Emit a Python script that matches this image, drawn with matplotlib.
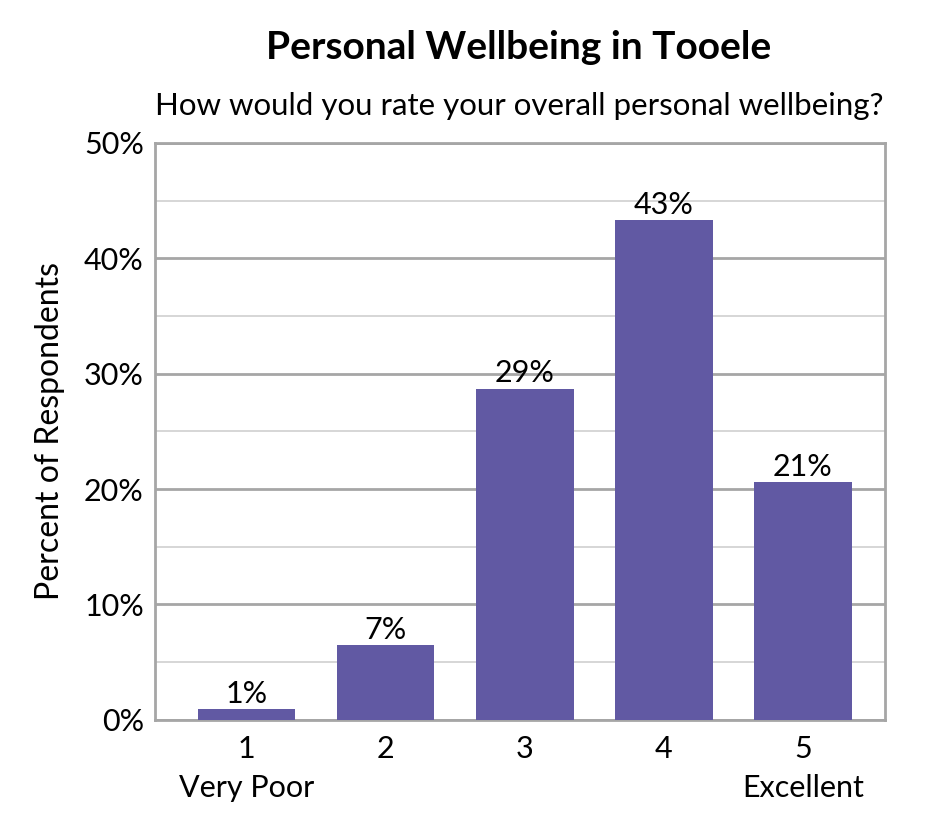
import matplotlib
matplotlib.use("Agg")
from matplotlib import pyplot as plt
from matplotlib.ticker import MultipleLocator, PercentFormatter

categories = ["1\nVery Poor", "2", "3", "4", "5\nExcellent"]
percents = [0.9, 6.5, 28.7, 43.3, 20.6]
bar_labels = ["1%", "7%", "29%", "43%", "21%"]

plt.rcParams['font.family'] = ['Lato', 'DejaVu Sans']

fig = plt.figure(figsize=(9.45, 8.4), dpi=100)
ax = fig.add_axes([0.164, 0.143, 0.7725, 0.687])

x = range(len(categories))
bars = ax.bar(x, percents, 0.70, color="#6159a3", zorder=3)

# percentage labels on top of each bar
for b, lab in zip(bars, bar_labels):
    ax.text(b.get_x() + b.get_width() / 2, b.get_height() + 0.1, lab,
            ha="center", va="bottom", fontsize=22)

ax.set_xlim(-0.66, 4.59)
ax.set_ylim(0, 50)
ax.yaxis.set_major_locator(MultipleLocator(10))
ax.yaxis.set_minor_locator(MultipleLocator(5))
ax.yaxis.set_major_formatter(PercentFormatter(decimals=0))
ax.grid(axis="y", which="major", color="#a6a6a6", linewidth=2, zorder=0)
ax.grid(axis="y", which="minor", color="#d0d0d0", linewidth=1.2, zorder=0)

ax.set_xticks(list(x))
ax.set_xticklabels(categories, fontsize=22, linespacing=1.45)
ax.tick_params(axis="y", labelsize=22, length=0, pad=8)
ax.tick_params(axis="x", length=0, pad=11)
ax.tick_params(which="minor", length=0)
for s in ax.spines.values():
    s.set_color("#a6a6a6")
    s.set_linewidth(2)

ax.set_ylabel("Percent of Respondents", fontsize=23, labelpad=14)

fig.text(0.549, 0.944, "Personal Wellbeing in Tooele", ha="center", va="center",
         fontsize=28, fontweight="bold")
fig.text(0.549, 0.874, "How would you rate your overall personal wellbeing?",
         ha="center", va="center", fontsize=22.5)

fig.savefig("out.png", dpi=100)
